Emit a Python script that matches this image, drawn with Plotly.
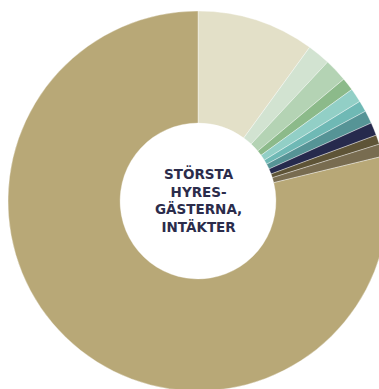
import plotly.graph_objects as go

labels = ["Hyresgäst 1", "Hyresgäst 2", "Hyresgäst 3", "Hyresgäst 4", "Hyresgäst 5",
          "Hyresgäst 6", "Hyresgäst 7", "Hyresgäst 8", "Hyresgäst 9", "Hyresgäst 10", "Övriga"]
values = [10.0, 1.95, 1.97, 1.1, 1.2, 0.95, 1.1, 1.1, 0.8, 1.05, 78.8]
colors = ["#E3E0C8", "#D2E3D1", "#B4D3B4", "#8CBA8A", "#92CFC6", "#6FB9B5",
          "#569496", "#262A4D", "#5E5437", "#786C50", "#B8A877"]
center_text = "STÖRSTA<br>HYRES-<br>GÄSTERNA,<br>INTÄKTER"

fig = go.Figure(go.Pie(
    labels=labels, values=values, sort=False, direction="clockwise", rotation=0,
    hole=0.41, textinfo="none", showlegend=False,
    marker=dict(colors=colors, line=dict(color="rgba(255,255,255,0.6)", width=0.6)),
))
fig.add_annotation(text=center_text, x=0.5, y=0.5, xref="paper", yref="paper",
                   yshift=1, showarrow=False, align="center",
                   font=dict(family="DejaVu Sans", size=13.5, color="#2B2C4B", weight="bold"))
fig.update_layout(width=388, height=391, margin=dict(l=8, r=0, t=11, b=0),
                  paper_bgcolor="white", plot_bgcolor="white")
fig.write_html("out.html",
               post_script="document.documentElement.style.overflow='hidden';document.body.style.overflow='hidden';document.body.style.margin='0';")
